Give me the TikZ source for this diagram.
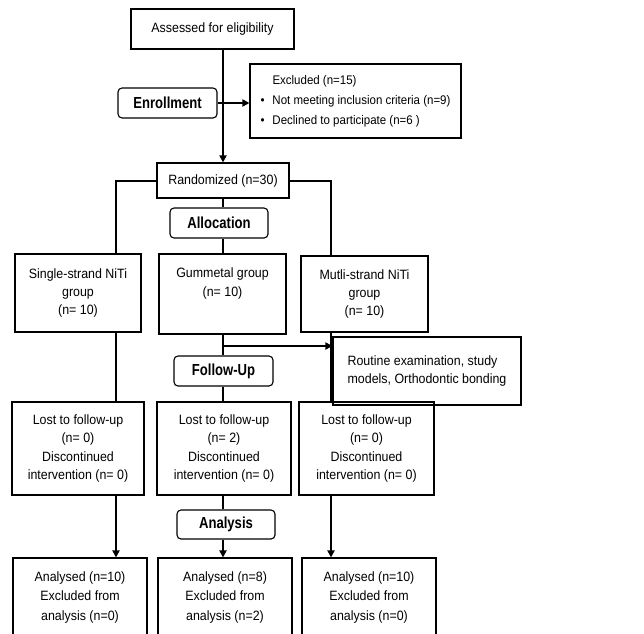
\documentclass[tikz,border=0pt]{standalone}
\usepackage{fontspec}
\setmainfont[FakeStretch=0.92]{Liberation Sans}
\usetikzlibrary{arrows.meta}
\newcommand\stagelbl[1]{\scalebox{0.89}[1]{\fontsize{16}{18}\selectfont\bfseries #1}}
\begin{document}
\begin{tikzpicture}[x=1pt,y=-1pt,
 box/.style={draw, line width=1.1pt, inner sep=0pt, align=center, font=\fontsize{13.5}{18.3}\selectfont},
 stage/.style={draw, line width=1.1pt, rounded corners=4pt, inner sep=0pt},
 conn/.style={line width=2pt},
 arr/.style={conn, -{Triangle[length=7pt,width=7pt]}}]
\clip (0,0) rectangle (644,633);
\fill[white] (0,0) rectangle (644,633);
\coordinate (cl) at (223,0);
\coordinate (ll) at (116,0);
\coordinate (rl) at (331,0);
\coordinate (rb) at (223,346);

\node[box, minimum width=163pt, minimum height=40pt] (assess) at (212.5,29) {Assessed for eligibility};
\node[box, minimum width=211pt, minimum height=74pt, align=left, font=\fontsize{12.5}{20}\selectfont] (excl) at (355.5,101)
 {\hspace*{12pt}Excluded (n=15)\\ \makebox[12pt][l]{\textbullet}Not meeting inclusion criteria (n=9)\\ \makebox[12pt][l]{\textbullet}Declined to participate (n=6 )};
\node[stage, minimum width=99pt, minimum height=30pt] (enroll) at (167.5,103) {\stagelbl{Enrollment}};
\node[box, minimum width=132pt, minimum height=35pt] (rand) at (223,180.5) {Randomized (n=30)};
\node[stage, minimum width=98pt, minimum height=30pt] (alloc) at (219,223) {\stagelbl{Allocation}};
\node[box, minimum width=126pt, minimum height=78pt] (single) at (78,293) {Single-strand NiTi\\group\\(n= 10)};
\node[box, minimum width=127pt, minimum height=80pt] (gum) at (222.5,294) {Gummetal group\\(n= 10)\\\strut};
\node[box, minimum width=127pt, minimum height=76pt] (multi) at (364.5,294) {Mutli-strand NiTi\\group\\(n= 10)};
\node[box, minimum width=188pt, minimum height=68pt, align=left] (routine) at (427,371) {Routine examination, study\\models, Orthodontic bonding};
\node[stage, minimum width=99pt, minimum height=30pt] (follow) at (223.5,371) {\stagelbl{Follow-Up}};
\node[box, minimum width=132pt, minimum height=93pt] (lost1) at (78,448.5) {Lost to follow-up\\(n= 0)\\Discontinued\\intervention (n= 0)};
\node[box, minimum width=134pt, minimum height=93pt] (lost2) at (224,448.5) {Lost to follow-up\\(n= 2)\\Discontinued\\intervention (n= 0)};
\node[box, minimum width=135pt, minimum height=93pt] (lost3) at (366.5,448.5) {Lost to follow-up\\(n= 0)\\Discontinued\\intervention (n= 0)};
\node[stage, minimum width=98pt, minimum height=29pt] (analysis) at (226,524.5) {\stagelbl{Analysis}};
\node[box, minimum width=134pt, minimum height=78pt, font=\fontsize{13.5}{19.5}\selectfont] (an1) at (80,597) {Analysed (n=10)\\Excluded from\\analysis (n=0)};
\node[box, minimum width=134pt, minimum height=78pt, font=\fontsize{13.5}{19.5}\selectfont] (an2) at (225,597) {Analysed (n=8)\\Excluded from\\analysis (n=2)};
\node[box, minimum width=134pt, minimum height=78pt, font=\fontsize{13.5}{19.5}\selectfont] (an3) at (369,597) {Analysed (n=10)\\Excluded from\\analysis (n=0)};

\draw[arr] (assess.south -| cl) -- (rand.north -| cl);
\draw[arr] (enroll.east) -- (enroll.east -| excl.west);
\draw[conn] (rand.west) -| (single.north -| ll);
\draw[conn] (rand.east) -| (multi.north -| rl);
\draw[conn] (rand.south -| cl) -- (alloc.north -| cl);
\draw[conn] (alloc.south -| cl) -- (gum.north -| cl);
\draw[conn] (gum.south -| cl) -- (follow.north -| cl);
\draw[conn] (follow.south -| cl) -- (lost2.north -| cl);
\draw[arr] (rb) -- (rb -| routine.west);
\draw[conn] (single.south -| ll) -- (lost1.north -| ll);
\draw[conn] (multi.south -| rl) -- (lost3.north -| rl);
\draw[arr] (lost1.south -| ll) -- (an1.north -| ll);
\draw[conn] (lost2.south -| cl) -- (analysis.north -| cl);
\draw[arr] (analysis.south -| cl) -- (an2.north -| cl);
\draw[arr] (lost3.south -| rl) -- (an3.north -| rl);
\end{tikzpicture}
\end{document}
